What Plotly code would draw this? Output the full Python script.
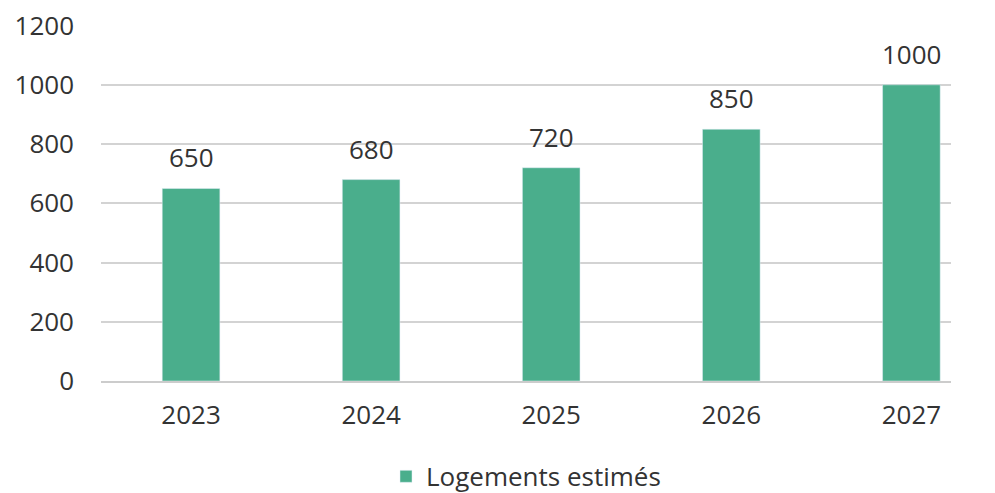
import plotly.graph_objects as go

years = ["2023", "2024", "2025", "2026", "2027"]
logements = [650, 680, 720, 850, 1000]
y_ticks = [0, 200, 400, 600, 800, 1000, 1200]

FONT = "Open Sans"
TXT = "#333333"
FS = 26

fig = go.Figure()
fig.add_trace(go.Bar(
    x=years, y=logements, name="Logements estimés",
    marker=dict(color="#4aae8c"),
    width=0.32,
))
for i, v in enumerate(logements):
    fig.add_annotation(x=i, y=v, xref="x", yref="y", text=str(v), showarrow=False,
                       yanchor="bottom", yshift=11,
                       font=dict(size=FS, color=TXT, family=FONT))
fig.update_layout(
    width=995, height=493,
    margin=dict(l=101, r=44, t=25, b=112, autoexpand=False),
    paper_bgcolor="white", plot_bgcolor="white",
    font=dict(family=FONT, size=FS, color=TXT),
    showlegend=True,
    legend=dict(orientation="h", x=0.5, xanchor="center", y=-0.268, yanchor="middle",
                font=dict(size=FS, color=TXT), itemwidth=30),
)
fig.update_xaxes(type="category", range=[-0.5, 4.22], showgrid=False,
                 showline=True, linecolor="#cccccc", linewidth=1.5,
                 ticks="", ticklabelstandoff=10, automargin=False,
                 tickfont=dict(size=FS, color=TXT))
fig.update_yaxes(range=[0, 1202], tickvals=y_ticks, showgrid=True,
                 gridcolor="#d3d3d3", gridwidth=1.5, zeroline=False,
                 ticks="", ticklabelstandoff=26, automargin=False,
                 tickfont=dict(size=FS, color=TXT))
fig.write_html("out.html", config={"displayModeBar": False},
               post_script="document.body.style.margin='0';")
